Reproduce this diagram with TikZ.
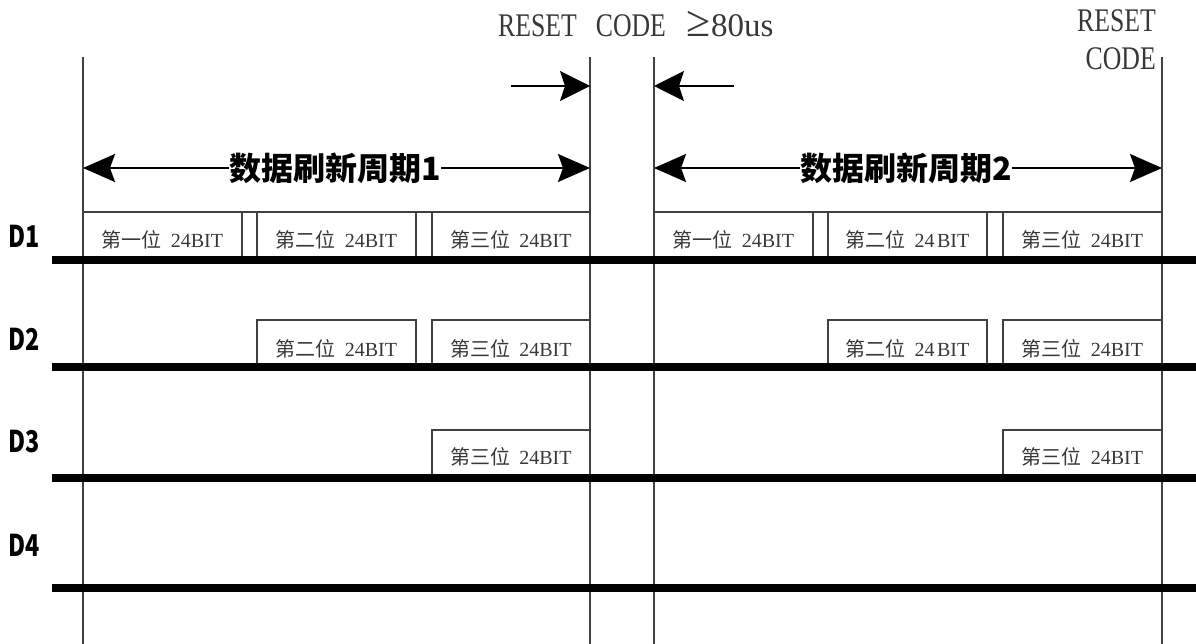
\documentclass[tikz,border=0pt]{standalone}
\usepackage{fontspec}
\setmainfont{Liberation Serif}
\newfontfamily\cjk{Noto Sans CJK SC}
\newfontfamily\dfont{Noto Sans CJK SC}[FakeStretch=0.78]
\newfontfamily\rsfont{Liberation Serif}[FakeStretch=0.78]
\usetikzlibrary{arrows.meta}
\definecolor{ln}{HTML}{404040}
\definecolor{tx}{HTML}{383838}
\begin{document}
\begin{tikzpicture}[x=1pt,y=-1pt,
  vline/.style={draw=ln,line width=1.4pt},
  boxline/.style={draw=ln,line width=1.1pt},
  bus/.style={draw=black,line width=8pt},
  bigarrow/.style={draw=black,line width=2pt,-{Stealth[length=32pt,width=28pt,inset=5pt]}},
  smallarrow/.style={draw=black,line width=1.4pt,-{Stealth[length=30pt,width=30pt,inset=5pt]}},
  lab/.style={inner sep=0pt,font=\fontsize{20}{20}\selectfont,text=tx},
  dlab/.style={inner sep=0pt,font=\dfont\bfseries\fontsize{30}{30}\selectfont},
  ttl/.style={inner sep=0pt,font=\cjk\bfseries\fontsize{32}{32}\selectfont},
  rs/.style={inner sep=0pt,font=\rsfont\fontsize{33}{38}\selectfont,text=tx}
]
\useasboundingbox (0,0) rectangle (1196,644);
% vertical time markers
\foreach \n/\x in {v1/83,v2/590,v3/654,v4/1162}{
  \coordinate (\n t) at (\x,57);
  \coordinate (\n b) at (\x,644);
  \draw[vline] (\n t) -- (\n b);
}
% reset code text
\node[rs,anchor=base west] (rc) at (498,37) {RESET\hspace{19pt}CODE\hspace{21pt}{\rmfamily{\fontsize{44}{44}\selectfont ≥}80us}};
\node[rs,anchor=base east] (rc2a) at (1156,32) {RESET};
\node[rs,anchor=base east] (rc2b) at (1156,70) {CODE};
% small reset arrows
\coordinate (s1a) at (511,86); \coordinate (s1b) at (590,86);
\coordinate (s2a) at (734,86); \coordinate (s2b) at (654,86);
\draw[smallarrow] (s1a) -- (s1b);
\draw[smallarrow] (s2a) -- (s2b);
% period titles
\node[ttl] (t1) at (335,168) {数据刷新周期1};
\node[ttl] (t2) at (906,168) {数据刷新周期2};
\coordinate (p1l) at (83,168); \coordinate (p1r) at (590,168);
\coordinate (p2l) at (654,168); \coordinate (p2r) at (1162,168);
\draw[bigarrow] (t1.west) -- (p1l);
\draw[bigarrow] (t1.east) -- (p1r);
\draw[bigarrow] (t2.west) -- (p2l);
\draw[bigarrow] (t2.east) -- (p2r);
% D1 signal
\draw[boxline] (83,212) -- (590,212);
\draw[boxline] (654,212) -- (1162,212);
\foreach \x in {242,257,416,432,813,828,987,1003}{
  \draw[boxline] (\x,212) -- (\x,257);
}
% D2 signal
\draw[boxline] (257,364) -- (257,320) -- (416,320) -- (416,364);
\draw[boxline] (432,364) -- (432,320) -- (590,320);
\draw[boxline] (828,364) -- (828,320) -- (987,320) -- (987,364);
\draw[boxline] (1003,364) -- (1003,320) -- (1162,320);
% D3 signal
\draw[boxline] (432,475) -- (432,430) -- (590,430);
\draw[boxline] (1003,475) -- (1003,430) -- (1162,430);
% buses
\foreach \n/\y in {b1/260.5,b2/367,b3/478,b4/588}{
  \coordinate (\n l) at (52,\y);
  \coordinate (\n r) at (1196,\y);
  \draw[bus] (\n l) -- (\n r);
}
% channel labels
\node[dlab] (d1) at (24,236) {D1};
\node[dlab] (d2) at (24,339) {D2};
\node[dlab] (d3) at (24,442) {D3};
\node[dlab] (d4) at (24,545) {D4};
% bit labels
\node[lab] (l11) at (162.5,240) {{\cjk 第一位}\hspace{9pt}24BIT};
\node[lab] (l12) at (336.5,240) {{\cjk 第二位}\hspace{9pt}24BIT};
\node[lab] (l13) at (511,240) {{\cjk 第三位}\hspace{9pt}24BIT};
\node[lab] (l14) at (733.5,240) {{\cjk 第一位}\hspace{9pt}24BIT};
\node[lab] (l15) at (907.5,240) {{\cjk 第二位}\hspace{9pt}{\spaceskip=2.5pt 24 BIT}};
\node[lab] (l16) at (1082.5,240) {{\cjk 第三位}\hspace{9pt}24BIT};
\node[lab] (l22) at (336.5,349) {{\cjk 第二位}\hspace{9pt}24BIT};
\node[lab] (l23) at (511,349) {{\cjk 第三位}\hspace{9pt}24BIT};
\node[lab] (l25) at (907.5,349) {{\cjk 第二位}\hspace{9pt}{\spaceskip=2.5pt 24 BIT}};
\node[lab] (l26) at (1082.5,349) {{\cjk 第三位}\hspace{9pt}24BIT};
\node[lab] (l33) at (511,457) {{\cjk 第三位}\hspace{9pt}24BIT};
\node[lab] (l36) at (1082.5,457) {{\cjk 第三位}\hspace{9pt}24BIT};
\end{tikzpicture}
\end{document}
